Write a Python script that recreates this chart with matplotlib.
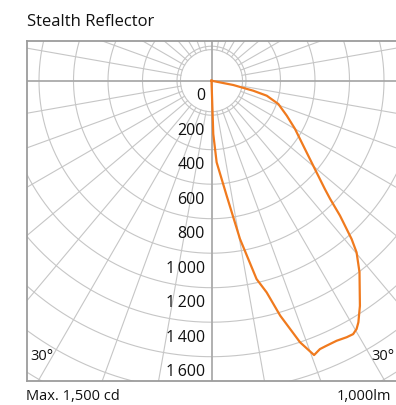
import numpy as np
import matplotlib
matplotlib.use("Agg")
import matplotlib.pyplot as plt

plt.rcParams['font.family'] = ['Open Sans', 'DejaVu Sans']

# ---- data ----
title = "Stealth Reflector"
angles_deg = [0, 1.9, 3.6, 7.5, 10.2, 12.8, 14.6, 16.3, 18.7, 20.5,
              22.0, 23.3, 25.7, 27.8, 29.2, 30.3, 31.3, 33.4, 37.7, 40.2, 41.5,
              43.6, 45.1, 46.3, 50.1, 54.7, 60.0, 65.1, 70.8, 74.8, 76.5, 78.8, 90]
candela = [0, 309, 474, 672, 932, 1179, 1268, 1419, 1601, 1698,
           1678, 1675, 1673, 1681, 1683, 1667, 1639, 1563, 1403, 1303, 1226,
           1080, 971, 909, 769, 652, 559, 481, 410, 332, 249, 129, 0]
ring_values = [0, 200, 400, 600, 800, 1000, 1200, 1400, 1600]
ring_labels = ["0", "200", "400", "600", "800",
               "1\u2009000", "1\u2009200", "1\u2009400", "1\u2009600"]
angle_label = "30°"
max_label = "Max. 1,500 cd"
flux_label = "1,000lm"

# ---- figure ----
W, H = 396, 406
fig = plt.figure(figsize=(W / 100, H / 100), dpi=100)
left_px, right_px, top_px, bottom_px = 27, 396, 42, 382
ox, oy = 211.5, 81.7          # pixel position of the pole
s = 0.1725                     # pixels per candela unit
ax = fig.add_axes([left_px / W, 1 - bottom_px / H,
                   (right_px - left_px) / W, (bottom_px - top_px) / H])
ax.set_xlim((left_px - ox) / s, (right_px - ox) / s)
ax.set_ylim(-(bottom_px - oy) / s, (oy - top_px) / s)
ax.set_xticks([])
ax.set_yticks([])
for side in ['left', 'top', 'bottom']:
    ax.spines[side].set_color('#9c9c9c')
    ax.spines[side].set_linewidth(1.3)
ax.spines['right'].set_visible(False)

grid_c = '#c6c6c6'
t = np.linspace(0, 2 * np.pi, 721)
# rings
for R in range(200, 2400, 200):
    ax.plot(R * np.cos(t), R * np.sin(t), color=grid_c, lw=0.8, zorder=1)
inner_R = 180
ax.plot(inner_R * np.cos(t), inner_R * np.sin(t), color=grid_c, lw=0.8, zorder=1)
# radial lines every 10 degrees
for a in range(0, 360, 10):
    if a % 90 == 0:
        continue
    ar = np.deg2rad(a)
    ax.plot([inner_R * np.cos(ar), 2600 * np.cos(ar)],
            [inner_R * np.sin(ar), 2600 * np.sin(ar)],
            color=grid_c, lw=0.8, zorder=1)
ax.axhline(0, color='#aaaaaa', lw=1.3, zorder=2)
ax.axvline(0, color='#aaaaaa', lw=1.3, zorder=2)

# ring labels
for v, lab in zip(ring_values, ring_labels):
    ax.text(-38, -(v + 85), lab, ha='right', va='center', fontsize=11.5,
            color='#111111', zorder=3)

# angle labels
ax.text((30 - ox) / s, -(357 - oy) / s, angle_label, ha='left', va='center',
        fontsize=10.5, color='#111111')
ax.text((394 - ox) / s, -(357 - oy) / s, angle_label, ha='right', va='center',
        fontsize=10.5, color='#111111')

# intensity curve
th = np.deg2rad(np.array(angles_deg))
cd = np.array(candela, dtype=float)
ax.plot(cd * np.sin(th), -cd * np.cos(th), color='#f07a1e', lw=1.6,
        solid_joinstyle='round', zorder=4, clip_on=False)

fig.text(27 / W, 1 - 22 / H, title, ha='left', va='center', fontsize=12,
         color='#111111')
fig.text(26 / W, 1 - 397 / H, max_label, ha='left', va='center', fontsize=10.5,
         color='#111111')
fig.text(391 / W, 1 - 397 / H, flux_label, ha='right', va='center', fontsize=10.5,
         color='#111111')

fig.savefig("out.png", dpi=100)
